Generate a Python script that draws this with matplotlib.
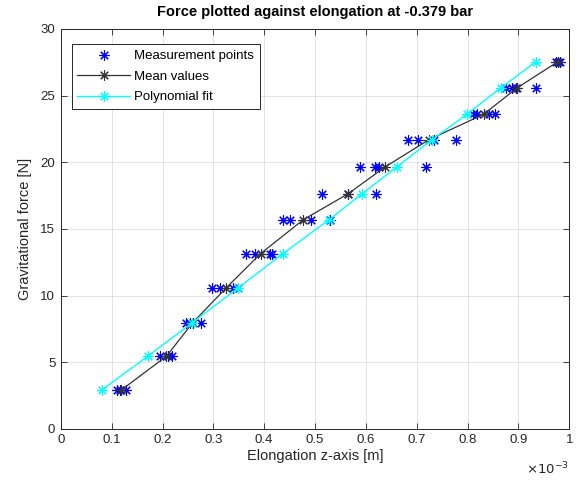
import numpy as np
import matplotlib
matplotlib.use("Agg")
import matplotlib.pyplot as plt
from matplotlib.ticker import FuncFormatter, MultipleLocator

plt.rcParams['font.family'] = ['Liberation Sans', 'DejaVu Sans']

# force levels [N] and the elongations measured at each one [1e-3 m]
force = [2.9, 5.45, 7.95, 10.55, 13.15, 15.7, 17.65, 19.65, 21.7, 23.6, 25.6, 27.55]
measured = [
    [0.110, 0.117, 0.128],
    [0.195, 0.210, 0.218],
    [0.247, 0.255, 0.275],
    [0.297, 0.313, 0.339, 0.349],
    [0.364, 0.382, 0.411, 0.415],
    [0.437, 0.450, 0.492, 0.530],
    [0.513, 0.565, 0.619],
    [0.589, 0.618, 0.625, 0.719],
    [0.682, 0.702, 0.735, 0.778],
    [0.810, 0.818, 0.843, 0.855],
    [0.876, 0.887, 0.895, 0.935],
    [0.974, 0.978, 0.982],
]
# elongation from the polynomial fit [1e-3 m]
fit = [0.080, 0.171, 0.258, 0.348, 0.437, 0.528, 0.593, 0.661, 0.730, 0.799, 0.866, 0.935]

SCALE = 1e-3
star = (8, 2, 0)  # asterisk marker
dark = '#262626'

meas_x = np.concatenate([np.array(m) for m in measured]) * SCALE
meas_y = np.concatenate([[f] * len(m) for f, m in zip(force, measured)])
mean_x = np.array([np.mean(m) for m in measured]) * SCALE
fit_x = np.array(fit) * SCALE

fig = plt.figure(figsize=(5.85, 4.83), dpi=100)
ax = fig.add_axes([0.104, 0.112, 0.869, 0.828])

mk = dict(marker=star, markersize=7.5, markeredgewidth=0.8)
ax.plot(meas_x, meas_y, linestyle='none', color='#0000ff',
        label='Measurement points', **mk)
ax.plot(mean_x, force, '-', color='#333333', linewidth=0.9,
        label='Mean values', **mk)
ax.plot(fit_x, force, '-', color='#00ffff', linewidth=1.0,
        label='Polynomial fit', **mk)

ax.set_xlim(0, 1e-3)
ax.set_ylim(0, 30)
ax.xaxis.set_major_locator(MultipleLocator(1e-4))
ax.yaxis.set_major_locator(MultipleLocator(5))
ax.xaxis.set_major_formatter(FuncFormatter(lambda v, p: '%g' % round(v / SCALE, 6)))
ax.text(1.0, -0.08, r'$\times10^{-3}$', transform=ax.transAxes, ha='right',
        va='top', fontsize=9.5, color=dark)

ax.grid(True, color=dark, alpha=0.15, linewidth=0.6)
ax.tick_params(direction='in', length=4, width=0.6, top=True, right=True,
               labelsize=9.5, colors=dark, pad=4)
for s in ax.spines.values():
    s.set_color(dark)
    s.set_linewidth(0.7)

ax.set_xlabel('Elongation z-axis [m]', fontsize=10.5, color=dark, labelpad=2)
ax.set_ylabel('Gravitational force [N]', fontsize=10.5, color=dark, labelpad=6)
ax.set_title('Force plotted against elongation at -0.379 bar', fontsize=10.5,
             fontweight='bold', color='black', pad=9)

leg = ax.legend(loc='upper left', bbox_to_anchor=(0.021, 0.962), fontsize=9.5,
                frameon=True, fancybox=False, edgecolor=dark, framealpha=1,
                handlelength=4.0, handletextpad=0.3, borderpad=0.45,
                labelspacing=0.62, borderaxespad=0)
leg.get_frame().set_linewidth(0.7)

fig.savefig('out.png', dpi=100)
